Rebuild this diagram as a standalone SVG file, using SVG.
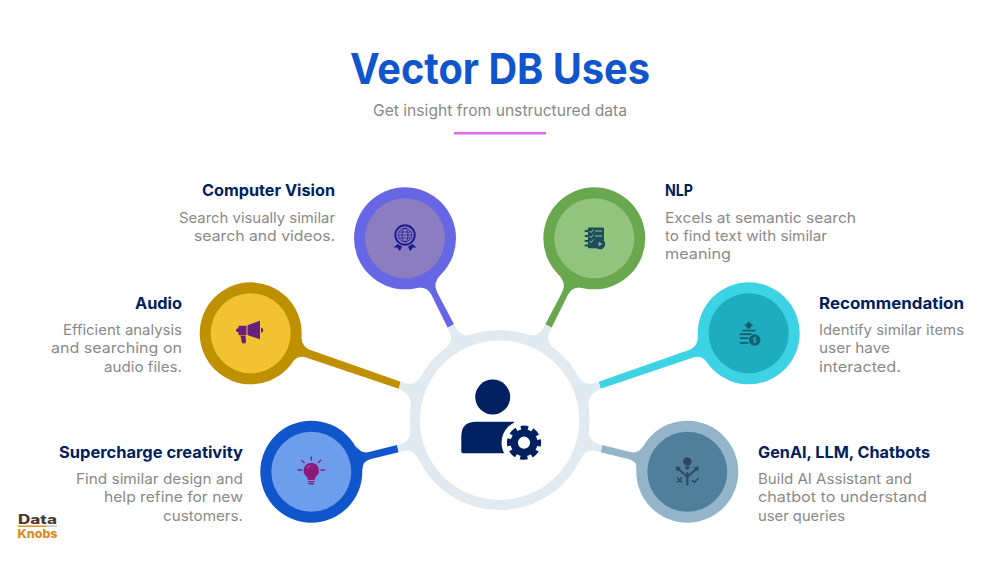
<svg xmlns="http://www.w3.org/2000/svg" xmlns:xlink="http://www.w3.org/1999/xlink" width="1000" height="563" viewBox="0 0 1000 563">
<style>
text{font-family:Inter,"Liberation Sans",sans-serif}
.h{font-size:16px;font-weight:700;fill:#002060}
.b{font-size:14.5px;fill:#8a8a8a}
.e{text-anchor:end}
.stub{fill:#e1eaf0}
</style>
<defs>
<path id="stalkA" d="M416,288Q426,286 431,294L447.7,327.7L454,324.3L437,292Q432,283 442,273Z"/>
<path id="stalkB" d="M301.5,338Q302,346 309,349.5L400.7,381.7L398.7,388.7L306,357.5Q299,355 293,361Z"/>
<path id="stalkC" d="M356,446Q361,454 369,452L397,445L398.7,452.3L371,459Q362,461 362.5,470Z"/>
<path id="stubA" d="M447.7,327.7C452,336 455,342 440,353L480,370L472,334C463,337 459,334 454,324.3Z"/>
<path id="stubB" d="M400.7,381.7C408,384 413,386 419,379L440,420L410,414C412,403 412,395 398.7,388.7Z"/>
<path id="stubC" d="M397,445C405,443 410,441 410.5,431L440,440L419,460C414,450 408,449 398.7,452.3Z"/>
</defs>
<rect width="1000" height="563" fill="#fff"/>
<g id="header">
<text x="500" y="84" text-anchor="middle" font-size="43" font-weight="700" fill="#1155cc" textLength="300" lengthAdjust="spacingAndGlyphs">Vector DB Uses</text>
<text x="500" y="116" text-anchor="middle" font-size="16" fill="#8a8a8a" textLength="254" lengthAdjust="spacingAndGlyphs">Get insight from unstructured data</text>
<rect x="454" y="132" width="92" height="2.5" fill="#e866e8"/>
</g>
<g id="connectors">
<use xlink:href="#stalkA" href="#stalkA" fill="#6767e6"/>
<use xlink:href="#stalkA" href="#stalkA" fill="#6aa84f" transform="translate(999.3,0) scale(-1,1)"/>
<use xlink:href="#stalkB" href="#stalkB" fill="#bf9000"/>
<use xlink:href="#stalkB" href="#stalkB" fill="#3dd2e4" transform="translate(999.3,0) scale(-1,1)"/>
<use xlink:href="#stalkC" href="#stalkC" fill="#1155cc"/>
<use xlink:href="#stalkC" href="#stalkC" fill="#94b5c9" transform="translate(999.3,0) scale(-1,1)"/>
<use xlink:href="#stubA" href="#stubA" class="stub"/>
<use xlink:href="#stubA" href="#stubA" class="stub" transform="translate(999.3,0) scale(-1,1)"/>
<use xlink:href="#stubB" href="#stubB" class="stub"/>
<use xlink:href="#stubB" href="#stubB" class="stub" transform="translate(999.3,0) scale(-1,1)"/>
<use xlink:href="#stubC" href="#stubC" class="stub"/>
<use xlink:href="#stubC" href="#stubC" class="stub" transform="translate(999.3,0) scale(-1,1)"/>
</g>
<g id="hub">
<circle cx="499.6" cy="420" r="90" fill="#e1eaf0"/>
<circle cx="499.6" cy="420.2" r="79.7" fill="#fff"/>
<circle cx="492.7" cy="397" r="17.5" fill="#002060"/>
<path d="M476,421.7H514V453.3H463Q461.3,453.3 461.3,451.5V436.5Q461.3,421.7 476,421.7Z" fill="#002060"/>
<circle cx="524" cy="442.7" r="22.5" fill="#fff"/>
<circle cx="524" cy="442.7" r="9.8" fill="none" stroke="#002060" stroke-width="7.4"/>
<circle cx="524" cy="442.7" r="14.6" fill="none" stroke="#002060" stroke-width="5" stroke-dasharray="7.2 4.27" stroke-dashoffset="3.6"/>
</g>
<g id="node-computer-vision">
<circle cx="405" cy="238.3" r="51" fill="#6767e6"/>
<circle cx="405" cy="238.3" r="40" fill="#8c7cc0"/>
<g fill="none" stroke="#1a1a8c">
<circle cx="405" cy="235" r="9.7" stroke-width="2"/>
<circle cx="405" cy="235" r="6.8" stroke-width=".8"/>
<ellipse cx="405" cy="235" rx="3" ry="6.8" stroke-width=".8"/>
<path d="M398.2,235H411.8M399,232H411M399,238H411" stroke-width=".7"/>
</g>
<path d="M397.5,244L402,246.5L400,251L397,247.5L393.5,247.5ZM412.5,244L408,246.5L410,251L413,247.5L416.5,247.5Z" fill="#1a1a8c"/>
<text class="h e" x="335" y="196" textLength="133" lengthAdjust="spacingAndGlyphs">Computer Vision</text>
<text class="b e" x="335" y="223" textLength="156" lengthAdjust="spacingAndGlyphs">Search visually similar</text>
<text class="b e" x="335" y="241" textLength="141" lengthAdjust="spacingAndGlyphs">search and videos.</text>
</g>
<g id="node-nlp">
<circle cx="594.3" cy="238.3" r="51" fill="#6aa84f"/>
<circle cx="594.3" cy="238.3" r="40" fill="#93c47d"/>
<path d="M588,227.5H603Q604,227.5 604,228.5V240A6,6 0 0 0 597,248.3H588Z" fill="#1c4d5c"/>
<circle cx="600" cy="244" r="5.2" fill="#1c4d5c"/>
<path d="M598.7,241.7L602.3,244L598.7,246.3Z" fill="#93c47d"/>
<g stroke="#1c4d5c" stroke-width="2" stroke-linecap="round"><path d="M585.5,231H588M585.5,236H588M585.5,241H588M585.5,245.5H588"/></g>
<g stroke="#93c47d" stroke-width="1" fill="none"><path d="M589.5,231L591,232.5L593.5,229.5M589.5,236L591,237.5L593.5,234.5M589.5,241L591,242.5L593.5,239.5M595,231H602M595,236H602"/></g>
<text class="h" x="665" y="196" textLength="28" lengthAdjust="spacingAndGlyphs">NLP</text>
<text class="b" x="665" y="223" textLength="191" lengthAdjust="spacingAndGlyphs">Excels at semantic search</text>
<text class="b" x="665" y="241" textLength="162" lengthAdjust="spacingAndGlyphs">to find text with similar</text>
<text class="b" x="665" y="259" textLength="66" lengthAdjust="spacingAndGlyphs">meaning</text>
</g>
<g id="node-audio">
<circle cx="250.7" cy="333.3" r="51" fill="#bf9000"/>
<circle cx="250.7" cy="333.3" r="40" fill="#f1c232"/>
<g fill="#661f80">
<path d="M247.5,325.2L260,320.7V339.3L247.5,335Z"/>
<rect x="238.5" y="325.7" width="8" height="9.5" rx="1"/>
<circle cx="238" cy="330.3" r="2"/>
<path d="M261,327.5A2.8,2.8 0 0 1 261,333Z"/>
<path d="M240.5,335.8H245.5L246,341.5A2.2,2.2 0 0 1 241.7,342Z"/>
</g>
<text class="h e" x="182" y="309" textLength="47" lengthAdjust="spacingAndGlyphs">Audio</text>
<text class="b e" x="182" y="335" textLength="119" lengthAdjust="spacingAndGlyphs">Efficient analysis</text>
<text class="b e" x="182" y="353" textLength="131" lengthAdjust="spacingAndGlyphs">and searching on</text>
<text class="b e" x="182" y="372" textLength="78" lengthAdjust="spacingAndGlyphs">audio files.</text>
</g>
<g id="node-recommendation">
<circle cx="748.7" cy="333.3" r="51" fill="#3dd2e4"/>
<circle cx="748.7" cy="333.3" r="40" fill="#1eadbe"/>
<g fill="#14606f">
<path d="M748.7,321.5L753.5,326H751V328.5H746.5V326H744Z"/>
<rect x="742.5" y="329.8" width="13" height="1.6"/>
<rect x="739.5" y="333.3" width="12" height="1.8"/>
<rect x="740" y="337.3" width="8.5" height="1.8"/>
<rect x="740" y="342" width="8.5" height="1.8"/>
<circle cx="754.7" cy="340" r="5.8"/>
</g>
<path d="M756.5,338H753.7V340H755.9V342H752.9M754.7,336.8V343.2" fill="none" stroke="#1eadbe" stroke-width=".9"/>
<text class="h" x="819" y="309" textLength="145" lengthAdjust="spacingAndGlyphs">Recommendation</text>
<text class="b" x="819" y="335" textLength="145" lengthAdjust="spacingAndGlyphs">Identify similar items</text>
<text class="b" x="819" y="353" textLength="71" lengthAdjust="spacingAndGlyphs">user have</text>
<text class="b" x="819" y="372" textLength="82" lengthAdjust="spacingAndGlyphs">interacted.</text>
</g>
<g id="node-creativity">
<circle cx="311.3" cy="471.7" r="51" fill="#1155cc"/>
<circle cx="311.3" cy="471.7" r="40" fill="#6d9eeb"/>
<g fill="#8b1a7a">
<path d="M311.3,463A7.5,7.5 0 0 1 316,476.5Q314.8,477.5 314.8,480H307.8Q307.8,477.5 306.6,476.5A7.5,7.5 0 0 1 311.3,463Z"/>
<rect x="308" y="481" width="6.6" height="1.3"/>
<path d="M308,483H314.6L313.4,484.4H309.2Z"/>
</g>
<g stroke="#8b1a7a" stroke-width="1.3" fill="none"><path d="M311.3,456.5V460.7M301.5,460L304.5,463M321,460L318,463M297.5,470H302M320.5,470H325"/></g>
<path d="M307,468.5Q308,466 310.5,465.7" fill="none" stroke="#6d9eeb" stroke-width=".8"/>
<text class="h e" x="243" y="458" textLength="184" lengthAdjust="spacingAndGlyphs">Supercharge creativity</text>
<text class="b e" x="243" y="484" textLength="167" lengthAdjust="spacingAndGlyphs">Find similar design and</text>
<text class="b e" x="243" y="502" textLength="139" lengthAdjust="spacingAndGlyphs">help refine for new</text>
<text class="b e" x="243" y="521" textLength="80" lengthAdjust="spacingAndGlyphs">customers.</text>
</g>
<g id="node-genai">
<circle cx="687.3" cy="471.7" r="51" fill="#94b5c9"/>
<circle cx="687.3" cy="471.7" r="40" fill="#4f7f9b"/>
<g fill="#2c4a5e">
<circle cx="687.3" cy="461.5" r="4.3"/>
<path d="M684.5,466.5H690L688.5,469.5H686Z"/>
<rect x="686.4" y="472" width="1.9" height="13.5"/>
<path d="M675.5,466.5L681,467.3L679.6,468.8L687.3,475.5V478L678.3,470.2L677,471.8ZM699,466.5L693.5,467.3L694.9,468.8L687.3,475.5V478L696.2,470.2L697.5,471.8Z"/>
</g>
<path d="M677,477.5L682,482.5M682,477.5L677,482.5M692,480L694.5,482.5L698.5,478" fill="none" stroke="#2c4a5e" stroke-width="1.5"/>
<text class="h" x="758" y="458" textLength="172" lengthAdjust="spacingAndGlyphs">GenAI, LLM, Chatbots</text>
<text class="b" x="758" y="484" textLength="154" lengthAdjust="spacingAndGlyphs">Build AI Assistant and</text>
<text class="b" x="758" y="502" textLength="169" lengthAdjust="spacingAndGlyphs">chatbot to understand</text>
<text class="b" x="758" y="521" textLength="87" lengthAdjust="spacingAndGlyphs">user queries</text>
</g>
<g id="logo">
<text x="18" y="523.5" font-size="12.5" font-weight="800" fill="#4a3a30" textLength="39" lengthAdjust="spacingAndGlyphs">Data</text>
<rect x="18" y="525.5" width="28" height="1.4" fill="#d98c1f"/>
<rect x="46" y="525.5" width="11" height="1.2" fill="#b9b4ad"/>
<text x="17.5" y="537.5" font-size="11.5" font-weight="800" fill="#d98c1f" textLength="40" lengthAdjust="spacingAndGlyphs">Knobs</text>
</g>
</svg>
